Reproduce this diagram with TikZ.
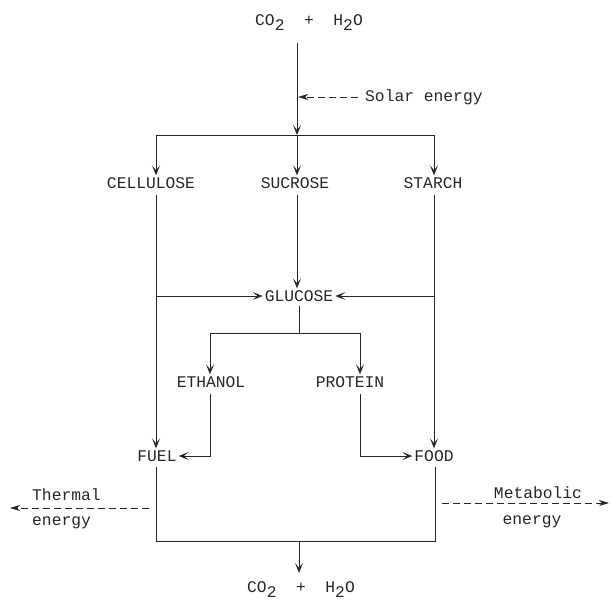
\documentclass[tikz,border=0pt]{standalone}
\usepackage{fontspec}
\setmainfont{Liberation Mono}
\usetikzlibrary{arrows.meta}
\definecolor{ink}{gray}{0.15}
\tikzset{
  lbl/.style={font=\fontsize{16.3}{18}\selectfont, text=ink, inner sep=2pt},
  conn/.style={draw=ink, line width=0.8pt},
  arr/.style={conn, -{Stealth[length=10pt,width=8pt,inset=5pt]}},
  dasharr/.style={conn, dash pattern=on 7pt off 4pt, -{Stealth[length=10pt,width=6pt,inset=3pt]}},
}
\newcommand{\lowtwo}{\raisebox{-5pt}{2}}
\begin{document}
\begin{tikzpicture}[x=1pt,y=-1pt]
\useasboundingbox (0,0) rectangle (612,603);
% nodes
\node[lbl] (top) at (309,23) {CO\lowtwo~~+~~H\lowtwo O};
\node[lbl,anchor=west] (solar) at (363,97) {Solar energy};
\node[lbl] (cell) at (151,183) {CELLULOSE};
\node[lbl] (suc) at (295,183) {SUCROSE};
\node[lbl] (star) at (433,183) {STARCH};
\node[lbl] (glu) at (299,296) {GLUCOSE};
\node[lbl] (eth) at (211,382) {ETHANOL};
\node[lbl] (pro) at (350,382) {PROTEIN};
\node[lbl] (fuel) at (157,456) {FUEL};
\node[lbl] (food) at (434,456) {FOOD};
\node[lbl] (bot) at (301,590) {CO\lowtwo~~+~~H\lowtwo O};
\node[lbl,anchor=west] (therm) at (30,495) {Thermal};
\node[lbl,anchor=west] (therm2) at (30,523) {energy};
\node[lbl] (metab) at (538,493) {Metabolic};
\node[lbl] (metab2) at (532,522) {energy};
% junction coordinates
\coordinate (jL) at (156,135);
\coordinate (jM) at (297,135);
\coordinate (jR) at (434,135);
\coordinate (topS) at (297,43);
\coordinate (gJ) at (299,333);
\coordinate (eL) at (210,333);
\coordinate (eR) at (360,333);
\coordinate (bL) at (156,541);
\coordinate (bM) at (299,541);
\coordinate (bR) at (435,541);
\coordinate (tS) at (149,508);
\coordinate (tE) at (10,508);
\coordinate (mS) at (442,503);
\coordinate (mE) at (609,503);
% top
\draw[arr] (topS) -- (jM);
\draw[dasharr] ([xshift=-5pt]solar.west) -- ([xshift=1pt]solar.west -| jM);
\draw[conn] (jL) -- (jR);
\draw[arr] (jL) -- (cell.north -| jL);
\draw[arr] (jM) -- (suc.north -| jM);
\draw[arr] (jR) -- (star.north -| jR);
% to glucose
\draw[arr] ([yshift=-4pt]suc.south -| jM) -- (glu.north -| jM);
\draw[arr] (glu -| jL) -- (glu.west);
\draw[arr] (glu -| jR) -- (glu.east);
% side columns to fuel / food
\draw[arr] ([yshift=-4pt]cell.south -| jL) -- (fuel.north -| jL);
\draw[arr] ([yshift=-4pt]star.south -| jR) -- (food.north -| jR);
% glucose split
\draw[conn] ([yshift=-2pt]glu.south -| gJ) -- (gJ);
\draw[conn] (eL) -- (eR);
\draw[arr] (eL) -- (eth.north -| eL);
\draw[arr] (eR) -- (pro.north -| eR);
\draw[arr] ([yshift=-4pt]eth.south -| eL) |- (fuel.east);
\draw[arr] ([yshift=-4pt]pro.south -| eR) |- (food.west);
% bottom
\draw[conn] ([yshift=-3pt]fuel.south -| bL) -- (bL) -- (bR) -- ([yshift=-3pt]food.south -| bR);
\draw[arr, shorten >=7pt] (bM) -- (bot.north -| bM);
% energy outputs
\draw[dasharr] (tS) -- (tE);
\draw[dasharr] (mS) -- (mE);
\end{tikzpicture}
\end{document}
